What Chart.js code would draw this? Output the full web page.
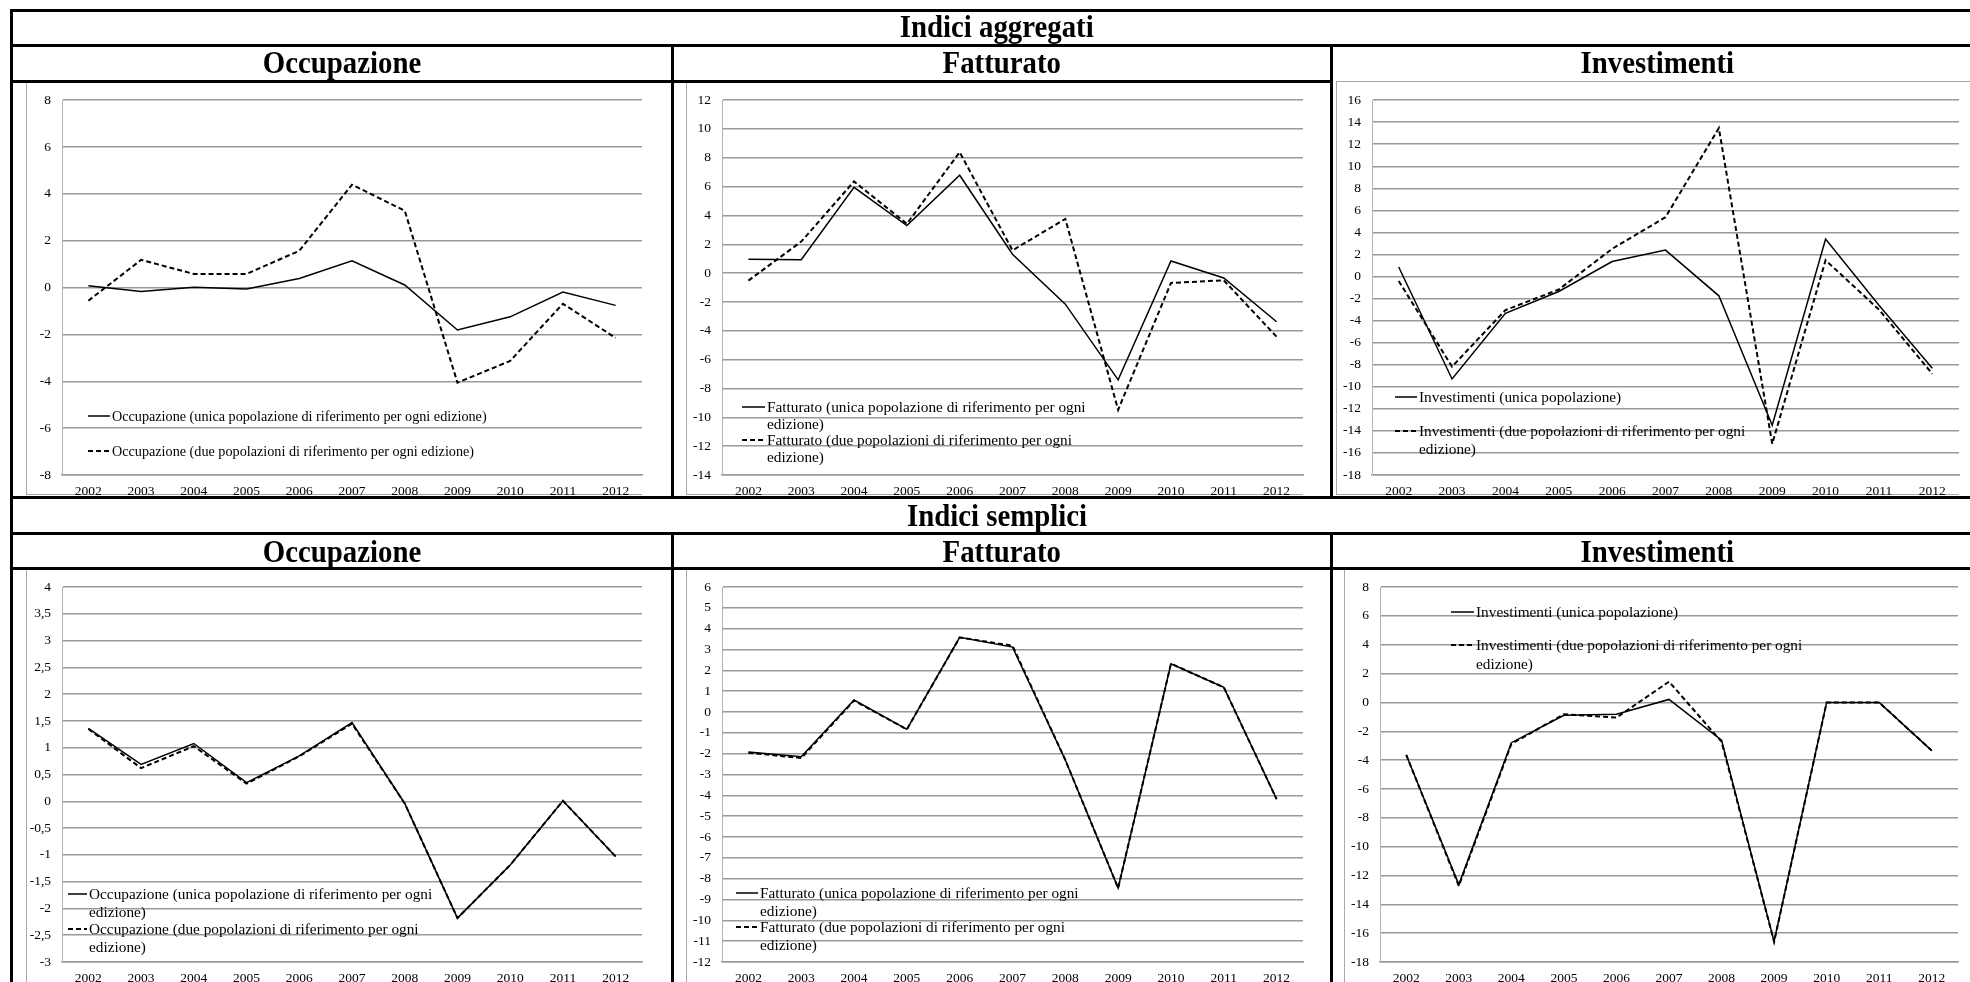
<!DOCTYPE html>
<html>
<head>
<meta charset="utf-8">
<script src="https://cdn.jsdelivr.net/npm/chart.js@4.4.0/dist/chart.umd.min.js"></script>
<style>
  html, body { margin: 0; padding: 0; background: #fff; }
  body { position: relative; width: 1970px; height: 982px; overflow: hidden;
         font-family: "Liberation Serif", "Times New Roman", serif; }
  canvas { position: absolute; }
  .hl { position: absolute; height: 3px; background: #000; }
  .vl { position: absolute; width: 3px; background: #000; }
  .hd { position: absolute; height: 36px; line-height: 36px; font-weight: bold; font-size: 32px;
        text-align: center; white-space: nowrap; color: #000; }
  .hd span { display: inline-block; transform: scaleX(0.9); }
</style>
</head>
<body>
<div id="charts"></div>

<!-- table rules -->
<div class="hl" style="left:10px; top:9px; width:1980px;"></div>
<div class="hl" style="left:10px; top:44px; width:1980px;"></div>
<div class="hl" style="left:10px; top:80px; width:1323px;"></div>
<div class="hl" style="left:10px; top:496px; width:1980px;"></div>
<div class="hl" style="left:10px; top:532px; width:1980px;"></div>
<div class="hl" style="left:10px; top:567px; width:1980px;"></div>
<div class="vl" style="left:10px; top:9px; height:1000px;"></div>
<div class="vl" style="left:671px; top:44px; height:454px;"></div>
<div class="vl" style="left:671px; top:532px; height:470px;"></div>
<div class="vl" style="left:1330px; top:44px; height:454px;"></div>
<div class="vl" style="left:1330px; top:532px; height:470px;"></div>

<!-- headings -->
<div class="hd" style="left:11px; width:1972px; top:8px;"><span>Indici aggregati</span></div>
<div class="hd" style="left:11px; width:661px; top:44px;"><span>Occupazione</span></div>
<div class="hd" style="left:672px; width:659px; top:44px;"><span>Fatturato</span></div>
<div class="hd" style="left:1331px; width:652px; top:44px;"><span>Investimenti</span></div>
<div class="hd" style="left:11px; width:1972px; top:497px;"><span>Indici semplici</span></div>
<div class="hd" style="left:11px; width:661px; top:533px;"><span>Occupazione</span></div>
<div class="hd" style="left:672px; width:659px; top:533px;"><span>Fatturato</span></div>
<div class="hd" style="left:1331px; width:652px; top:533px;"><span>Investimenti</span></div>

<script>
// Years on the category axis
const years = ['2002', '2003', '2004', '2005', '2006', '2007', '2008', '2009', '2010', '2011', '2012'];

// Indici aggregati
const occAggUnica = [0.08, -0.17, 0.01, -0.06, 0.39, 1.14, 0.11, -1.81, -1.25, -0.19, -0.76];
const occAggDue   = [-0.56, 1.18, 0.58, 0.58, 1.57, 4.39, 3.28, -4.06, -3.13, -0.69, -2.15];
const fatAggUnica = [0.97, 0.93, 5.95, 3.30, 6.79, 1.31, -2.15, -7.40, 0.84, -0.34, -3.37];
const fatAggDue   = [-0.52, 2.19, 6.36, 3.42, 8.39, 1.58, 3.76, -9.48, -0.68, -0.50, -4.41];
const invAggUnica = [0.86, -9.29, -3.34, -1.36, 1.36, 2.40, -1.75, -13.49, 3.40, -2.60, -8.31];
const invAggDue   = [-0.41, -8.17, -3.05, -1.18, 2.51, 5.38, 13.46, -15.18, 1.48, -3.00, -8.82];

// Indici semplici
const occSemUnica = [1.36, 0.69, 1.08, 0.35, 0.85, 1.47, -0.04, -2.18, -1.19, 0.01, -1.03];
const occSemDue   = [1.35, 0.62, 1.03, 0.33, 0.84, 1.45, -0.04, -2.18, -1.19, 0.01, -1.03];
const fatSemUnica = [-1.92, -2.14, 0.58, -0.83, 3.59, 3.12, -2.30, -8.45, 2.32, 1.19, -4.18];
const fatSemDue   = [-1.95, -2.21, 0.55, -0.83, 3.58, 3.19, -2.30, -8.45, 2.32, 1.19, -4.18];
const invSemUnica = [-3.64, -12.63, -2.79, -0.89, -0.82, 0.21, -2.61, -16.57, 0.00, 0.00, -3.34];
const invSemDue   = [-3.64, -12.72, -2.88, -0.82, -1.05, 1.44, -2.72, -16.60, 0.00, 0.00, -3.34];

// Legend texts (already broken into lines)
const occLegendAgg = [['Occupazione (unica popolazione di riferimento per ogni edizione)'],
                      ['Occupazione (due popolazioni di riferimento per ogni edizione)']];
const fatLegend = [['Fatturato (unica popolazione di riferimento per ogni', 'edizione)'],
                   ['Fatturato (due popolazioni di riferimento per ogni', 'edizione)']];
const invLegend = [['Investimenti (unica popolazione)'],
                   ['Investimenti (due popolazioni di riferimento per ogni', 'edizione)']];
const occLegendSem = [['Occupazione (unica popolazione di riferimento per ogni', 'edizione)'],
                      ['Occupazione (due popolazioni di riferimento per ogni', 'edizione)']];

const FONT = '"Liberation Serif", "Times New Roman", serif';
const GRID = '#999999';
const FRAME = '#a8a8a8';

function fmtTick(v) { return String(v).replace('.', ','); }

function addChart(p) {
  const cv = document.createElement('canvas');
  cv.width = p.w; cv.height = p.h;
  cv.style.left = p.x + 'px'; cv.style.top = p.y + 'px';
  document.getElementById('charts').appendChild(cv);

  // chart frame + in-plot legend
  const deco = {
    id: 'deco',
    beforeDraw(chart) {
      const ctx = chart.ctx;
      const r = p.plotR - p.x;
      ctx.save();
      ctx.strokeStyle = FRAME; ctx.lineWidth = 1;
      ctx.beginPath();
      ctx.moveTo(0.5, 0); ctx.lineTo(0.5, p.h);
      ctx.moveTo(0, 0.5); ctx.lineTo(p.w, 0.5);
      if (p.frameBottom) { ctx.moveTo(0, p.h - 0.5); ctx.lineTo(r, p.h - 0.5); }
      ctx.stroke();
      ctx.restore();
    },
    afterDatasetsDraw(chart) {
      const ctx = chart.ctx;
      const lg = p.legend;
      ctx.save();
      ctx.font = lg.size + 'px ' + FONT;
      ctx.fillStyle = '#000';
      ctx.textBaseline = 'alphabetic';
      ctx.textAlign = 'left';
      lg.items.forEach((lines, i) => {
        const ds = chart.data.datasets[i];
        const yy = lg.ys[i] - p.y;
        ctx.strokeStyle = '#000';
        ctx.lineWidth = ds.borderWidth;
        ctx.setLineDash(ds.borderDash || []);
        ctx.beginPath();
        ctx.moveTo(lg.s0 - p.x, yy);
        ctx.lineTo(lg.s1 - p.x, yy);
        ctx.stroke();
        ctx.setLineDash([]);
        lines.forEach((t, k) => {
          ctx.fillText(t, lg.tx - p.x, yy + 4.5 + k * lg.lh);
        });
      });
      ctx.restore();
    }
  };

  const tickFont = { family: FONT, size: 13.5 };
  new Chart(cv, {
    type: 'line',
    data: {
      labels: years,
      datasets: [
        { label: p.legend.items[0].join(' '), data: p.a, borderColor: '#000', borderWidth: 1.5,
          pointRadius: 0, tension: 0, fill: false },
        { label: p.legend.items[1].join(' '), data: p.b, borderColor: '#000', borderWidth: 2,
          borderDash: [5, 3], pointRadius: 0, tension: 0, fill: false }
      ]
    },
    options: {
      responsive: false, animation: false, devicePixelRatio: 1,
      layout: { padding: { left: 0, top: p.plotT - p.y, right: p.x + p.w - p.plotR, bottom: 0 } },
      plugins: { legend: { display: false }, tooltip: { enabled: false } },
      scales: {
        x: {
          type: 'category', offset: true,
          grid: { display: false, drawTicks: false },
          border: { display: true, color: GRID, width: 1.5 },
          ticks: { autoSkip: false, maxRotation: 0, minRotation: 0, padding: 8, color: '#000', font: tickFont },
          afterFit(s) { s.height = p.h - (p.plotB - p.y); }
        },
        y: {
          min: p.min, max: p.max,
          grid: { color: GRID, lineWidth: 1.5, drawTicks: false },
          border: { display: true, color: '#b4b4b4', width: 1 },
          ticks: { stepSize: p.step, padding: 11, color: '#000', font: tickFont, callback: fmtTick },
          afterFit(s) { s.width = p.plotL - p.x; }
        }
      }
    },
    plugins: [deco]
  });
}

// Indici aggregati
addChart({ x: 26, y: 81, w: 620, h: 414, plotL: 62, plotT: 91, plotR: 642, plotB: 475, frameBottom: true,
  min: -8, max: 8, step: 2, a: occAggUnica, b: occAggDue,
  legend: { items: occLegendAgg, size: 14.2, s0: 88, s1: 110, tx: 112, ys: [416, 451], lh: 17 } });
addChart({ x: 686, y: 81, w: 621, h: 414, plotL: 722, plotT: 91, plotR: 1303, plotB: 475, frameBottom: true,
  min: -14, max: 12, step: 2, a: fatAggUnica, b: fatAggDue,
  legend: { items: fatLegend, size: 15.3, s0: 742, s1: 765, tx: 767, ys: [407, 440], lh: 17 } });
addChart({ x: 1336, y: 81, w: 650, h: 414, plotL: 1372, plotT: 91, plotR: 1959, plotB: 475, frameBottom: true,
  min: -18, max: 16, step: 2, a: invAggUnica, b: invAggDue,
  legend: { items: invLegend, size: 15.3, s0: 1395, s1: 1417, tx: 1419, ys: [397, 431], lh: 18 } });

// Indici semplici
addChart({ x: 26, y: 568, w: 620, h: 434, plotL: 62, plotT: 578, plotR: 642, plotB: 962, frameBottom: false,
  min: -3, max: 4, step: 0.5, a: occSemUnica, b: occSemDue,
  legend: { items: occLegendSem, size: 15.3, s0: 68, s1: 87, tx: 89, ys: [894, 929], lh: 18 } });
addChart({ x: 686, y: 568, w: 621, h: 434, plotL: 722, plotT: 578, plotR: 1303, plotB: 962, frameBottom: false,
  min: -12, max: 6, step: 1, a: fatSemUnica, b: fatSemDue,
  legend: { items: fatLegend, size: 15.3, s0: 736, s1: 758, tx: 760, ys: [893, 927], lh: 18 } });
addChart({ x: 1344, y: 568, w: 642, h: 434, plotL: 1380, plotT: 578, plotR: 1958, plotB: 962, frameBottom: false,
  min: -18, max: 8, step: 2, a: invSemUnica, b: invSemDue,
  legend: { items: invLegend, size: 15.3, s0: 1451, s1: 1474, tx: 1476, ys: [612, 645], lh: 19 } });
</script>
</body>
</html>
